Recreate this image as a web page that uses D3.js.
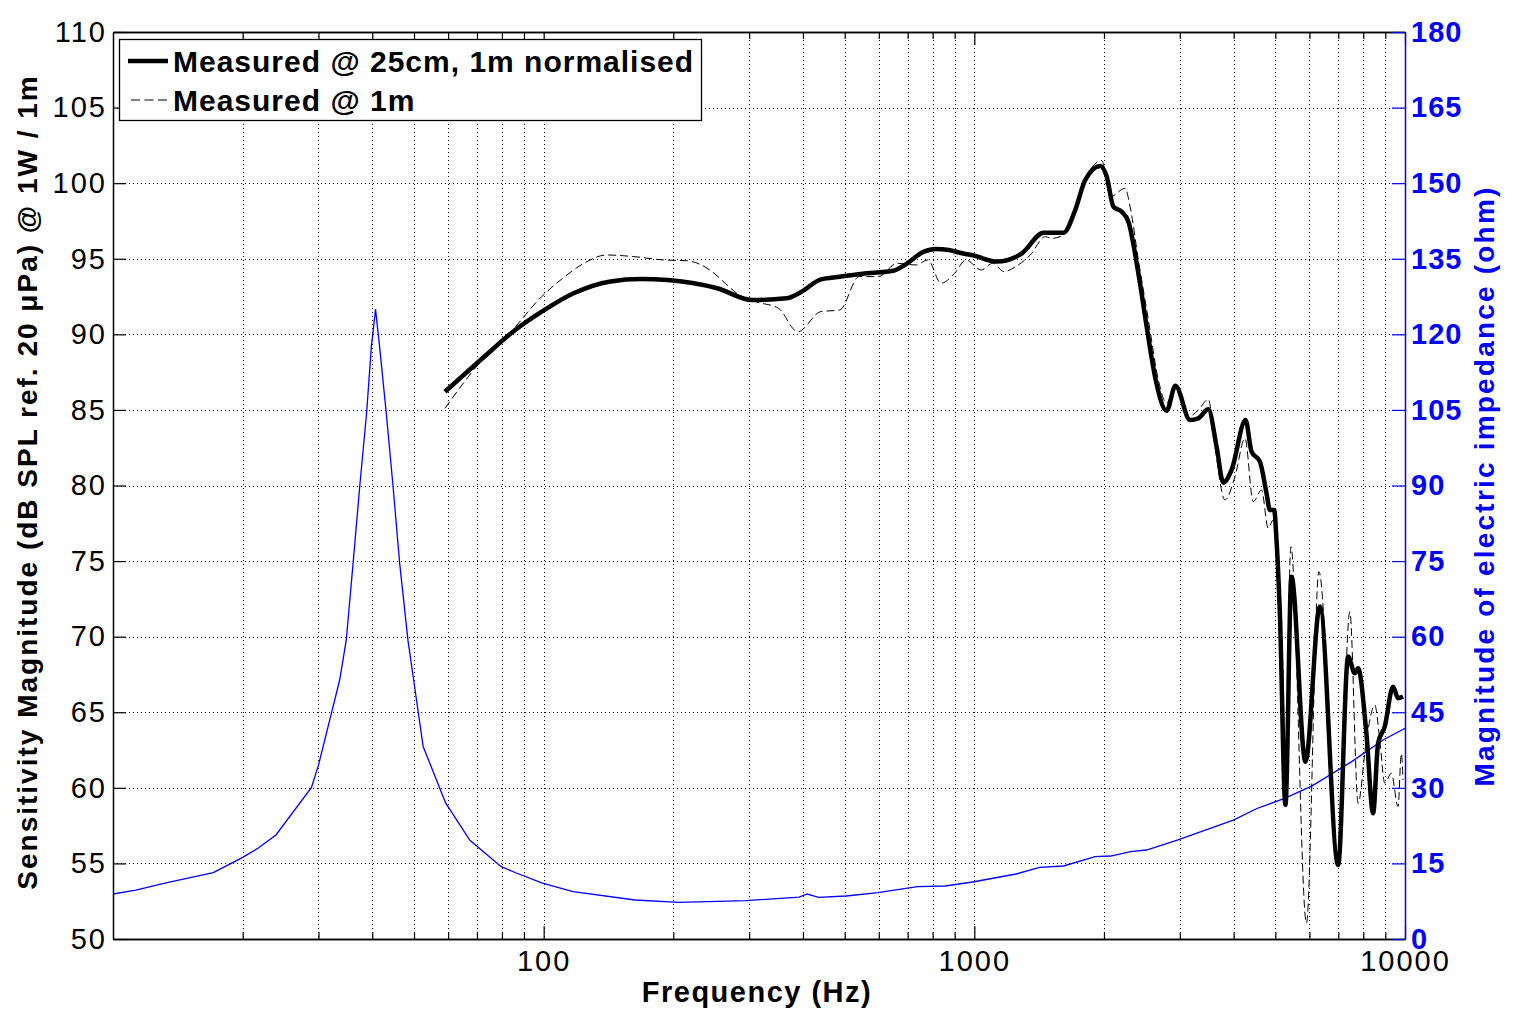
<!DOCTYPE html>
<html><head><meta charset="utf-8">
<script src="https://cdn.jsdelivr.net/npm/d3@7"></script>
<style>body{margin:0;background:#fff}text{font-family:"Liberation Sans",Arial,Helvetica,sans-serif}</style>
</head><body><svg id="c" width="1514" height="1029"></svg>
<script>
// ---- data ----
const solidFreq=[59,72,86,99,117,143,168,194,253,305,366,397,440,487,562,648,689,764,812,872,937,987,1129,1290,1448,1611,1715,1809,1960,2030,2104,2199,2279,2404,2513,2628,2796,2931,3169,3312,3494,3652,3785,3957,4264,4402,4604,4769,4856,4969,5031,5122,5277,5449,5873,6343,6995,7378,7645,7782,8135,8432,8660,8974,9380,9634,9895];
const solidDb=[86.2,88.4,90.3,91.5,92.7,93.5,93.66,93.6,93.05,92.27,92.38,92.82,93.64,93.81,94.04,94.21,94.59,95.47,95.65,95.58,95.36,95.25,94.81,95.36,96.72,96.72,98.22,100.21,101.14,100.43,98.44,98.11,97.45,94.04,90.5,87.2,84.95,86.6,84.33,84.44,85.04,82.57,80.19,81.03,84.33,82.24,81.58,79.49,78.38,78.38,76.4,71.55,58.87,73.97,61.73,71.99,54.9,68.68,67.58,67.91,63.61,58.32,62.95,64.05,66.69,65.93,66.04];
const dashFreq=[59,72,82,99,112,124,140,162,190,215,243,264,281,311,351,389,440,487,540,598,662,733,780,837,900,956,1038,1103,1173,1247,1349,1461,1514,1611,1715,1809,1977,2067,2239,2300,2404,2536,2675,2796,2926,3139,3312,3494,3621,3819,4029,4250,4442,4644,4813,4943,5077,5214,5261,5433,5904,6310,6995,7445,7782,8135,8508,8738,8974,9297,9634,9806,9895];
const dashDb=[85.1,88.3,89.84,92.5,93.82,94.7,95.25,95.14,94.92,94.87,94.26,93.38,92.71,92.16,91.72,90.17,91.5,91.61,93.82,93.82,94.7,94.59,94.92,93.38,94.04,94.92,94.26,94.7,94.15,94.48,95.25,96.46,96.35,96.57,98.22,100.21,101.49,99.1,99.66,98.44,94.92,90.95,86.98,85.44,86.65,84.55,84.99,85.7,82.57,79.05,80.59,83.12,78.93,79.7,77.17,77.72,72.65,67.13,60.96,75.95,51.04,74.3,55.45,71.65,58.98,63.17,65.48,63.17,60.31,60.97,58.76,62.28,60.52];
const impFreq=[10,11.3,13.35,17.1,20,21.7,23.9,28.9,30,33.6,34.8,36.1,37.4,38.8,39.8,40.7,41.6,43.1,44.7,46.3,48.4,49.9,52.5,59.2,67.4,79.7,86.4,99.3,117,163,206,295,392,409,435,504,597,738,855,991,1250,1418,1611,1907,2075,2304,2510,2971,3993,4531,5253,6085,7519,8894,10000];
const impOhm=[8.93,9.7,11.2,13.16,16.2,18.0,20.64,30.1,34.5,51.4,59.3,74.6,89.8,104.4,117.5,125.0,117.5,104.4,89.8,74.6,59.3,51.4,38.2,27.0,19.6,14.35,13.1,11.1,9.39,7.74,7.28,7.6,8.33,8.93,8.28,8.53,9.19,10.38,10.52,11.31,12.9,14.23,14.49,16.33,16.47,17.33,17.66,19.65,23.6,25.9,27.9,30.4,35.2,39.5,41.8];
const leftTicks=[50,55,60,65,70,75,80,85,90,95,100,105,110];
const rightTicks=[0,15,30,45,60,75,90,105,120,135,150,165,180];
const freqMajor=[100,1000,10000];
const legendLabels=["Measured @ 25cm, 1m normalised","Measured @ 1m"];
const xLabel="Frequency (Hz)";
const yLabelLeft="Sensitivity Magnitude (dB SPL ref. 20 μPa) @ 1W / 1m";
const yLabelRight="Magnitude of electric impedance (ohm)";

// ---- layout ----
const L=113,R=1405,T=32,B=939;
const BLUE="#0000ff";
const x=d3.scaleLog().domain([10,10000]).range([L,R]);
const yL=d3.scaleLinear().domain([50,110]).range([B,T]);
const yR=d3.scaleLinear().domain([0,180]).range([B,T]);
const svg=d3.select('#c');
svg.append('defs').append('clipPath').attr('id','clip').append('rect')
  .attr('x',L).attr('y',T).attr('width',R-L).attr('height',B-T);

const allFreqTicks=x.ticks();
const minorFreq=allFreqTicks.filter(f=>!freqMajor.includes(f)&&f!==10);

// grid
const grid=svg.append('g').attr('stroke','#000').attr('stroke-width',1).attr('stroke-dasharray','1,3').attr('fill','none');
allFreqTicks.filter(f=>f>10&&f<10000).forEach(f=>{
  const px=Math.round(x(f))+0.5;
  grid.append('line').attr('x1',px).attr('x2',px).attr('y1',T).attr('y2',B);
});
leftTicks.filter(v=>v>50&&v<110).forEach(v=>{
  const py=Math.round(yL(v))+0.5;
  grid.append('line').attr('x1',L).attr('x2',R).attr('y1',py).attr('y2',py);
});

// curves
const plot=svg.append('g').attr('clip-path','url(#clip)');
const imp=impFreq.map((f,i)=>[f,impOhm[i]]);
plot.append('path').datum(imp).attr('fill','none').attr('stroke',BLUE).attr('stroke-width',1.3)
  .attr('d',d3.line().x(d=>x(d[0])).y(d=>yR(d[1])));
const dash=dashFreq.map((f,i)=>[f,dashDb[i]]);
plot.append('path').datum(dash).attr('fill','none').attr('stroke','#000').attr('stroke-width',1)
  .attr('stroke-dasharray','8,4')
  .attr('d',d3.line().x(d=>x(d[0])).y(d=>yL(d[1])).curve(d3.curveMonotoneX));
const solid=solidFreq.map((f,i)=>[f,solidDb[i]]);
plot.append('path').datum(solid).attr('fill','none').attr('stroke','#000').attr('stroke-width',4.5)
  .attr('stroke-linejoin','round')
  .attr('d',d3.line().x(d=>x(d[0])).y(d=>yL(d[1])).curve(d3.curveMonotoneX));

// axes
function styleAxis(g,color){
  g.selectAll('path.domain').attr('stroke',color).attr('stroke-width',1.5);
  g.selectAll('line').attr('stroke',color).attr('stroke-width',1.2);
}
// bottom
const bMinor=svg.append('g').attr('transform',`translate(0,${B})`)
  .call(d3.axisBottom(x).tickValues(minorFreq).tickSize(-7).tickSizeOuter(0).tickFormat(''));
styleAxis(bMinor,'#000');
const bMajor=svg.append('g').attr('transform',`translate(0,${B})`)
  .call(d3.axisBottom(x).tickValues(freqMajor).tickSize(-13).tickSizeOuter(0).tickPadding(11).tickFormat(d3.format('d')));
styleAxis(bMajor,'#000');
bMajor.selectAll('text').attr('font-size',29).attr('fill','#000').attr('letter-spacing','2px')
  .attr('font-family','"Liberation Sans",Arial,sans-serif');
// top
const tMinor=svg.append('g').attr('transform',`translate(0,${T})`)
  .call(d3.axisTop(x).tickValues(minorFreq).tickSize(-7).tickSizeOuter(0).tickFormat(''));
styleAxis(tMinor,'#000');
const tMajor=svg.append('g').attr('transform',`translate(0,${T})`)
  .call(d3.axisTop(x).tickValues(freqMajor).tickSize(-13).tickSizeOuter(0).tickFormat(''));
styleAxis(tMajor,'#000');
// left
const lAx=svg.append('g').attr('transform',`translate(${L},0)`)
  .call(d3.axisLeft(yL).tickValues(leftTicks).tickSize(-13).tickSizeOuter(0).tickPadding(6));
styleAxis(lAx,'#000');
lAx.selectAll('text').attr('font-size',29).attr('fill','#000').attr('letter-spacing','2px')
  .attr('font-family','"Liberation Sans",Arial,sans-serif');
// right
const rAx=svg.append('g').attr('transform',`translate(${R},0)`)
  .call(d3.axisRight(yR).tickValues(rightTicks).tickSize(-13).tickSizeOuter(0).tickPadding(6));
styleAxis(rAx,BLUE);
rAx.selectAll('text').attr('font-size',29).attr('font-weight','bold').attr('fill',BLUE).attr('letter-spacing','1px')
  .attr('font-family','"Liberation Sans",Arial,sans-serif');

// axis labels
svg.append('text').attr('x',757).attr('y',1002).attr('text-anchor','middle')
  .attr('font-size',29).attr('font-weight','bold').attr('letter-spacing','1.5px').text(xLabel);
svg.append('text').attr('transform','translate(37,482) rotate(-90)').attr('text-anchor','middle')
  .attr('font-size',28).attr('font-weight','bold').attr('letter-spacing','2px').text(yLabelLeft);
svg.append('text').attr('transform','translate(1494,486) rotate(-90)').attr('text-anchor','middle')
  .attr('font-size',28).attr('font-weight','bold').attr('letter-spacing','2.2px').attr('fill',BLUE).text(yLabelRight);

// legend
const lg=svg.append('g');
lg.append('rect').attr('x',119.5).attr('y',39.5).attr('width',582).attr('height',81)
  .attr('fill','#fff').attr('stroke','#000').attr('stroke-width',1.3);
lg.append('line').attr('x1',128).attr('x2',168).attr('y1',61).attr('y2',61).attr('stroke','#000').attr('stroke-width',4.5);
lg.append('line').attr('x1',131).attr('x2',168).attr('y1',100).attr('y2',100).attr('stroke','#000').attr('stroke-width',1).attr('stroke-dasharray','9,4.5');
lg.selectAll('text.lt').data(legendLabels).enter().append('text').attr('class','lt')
  .attr('x',173).attr('y',(d,i)=>72+i*38.5).attr('font-size',30).attr('font-weight','bold')
  .attr('letter-spacing','1px').text(d=>d);
</script>
</body></html>
